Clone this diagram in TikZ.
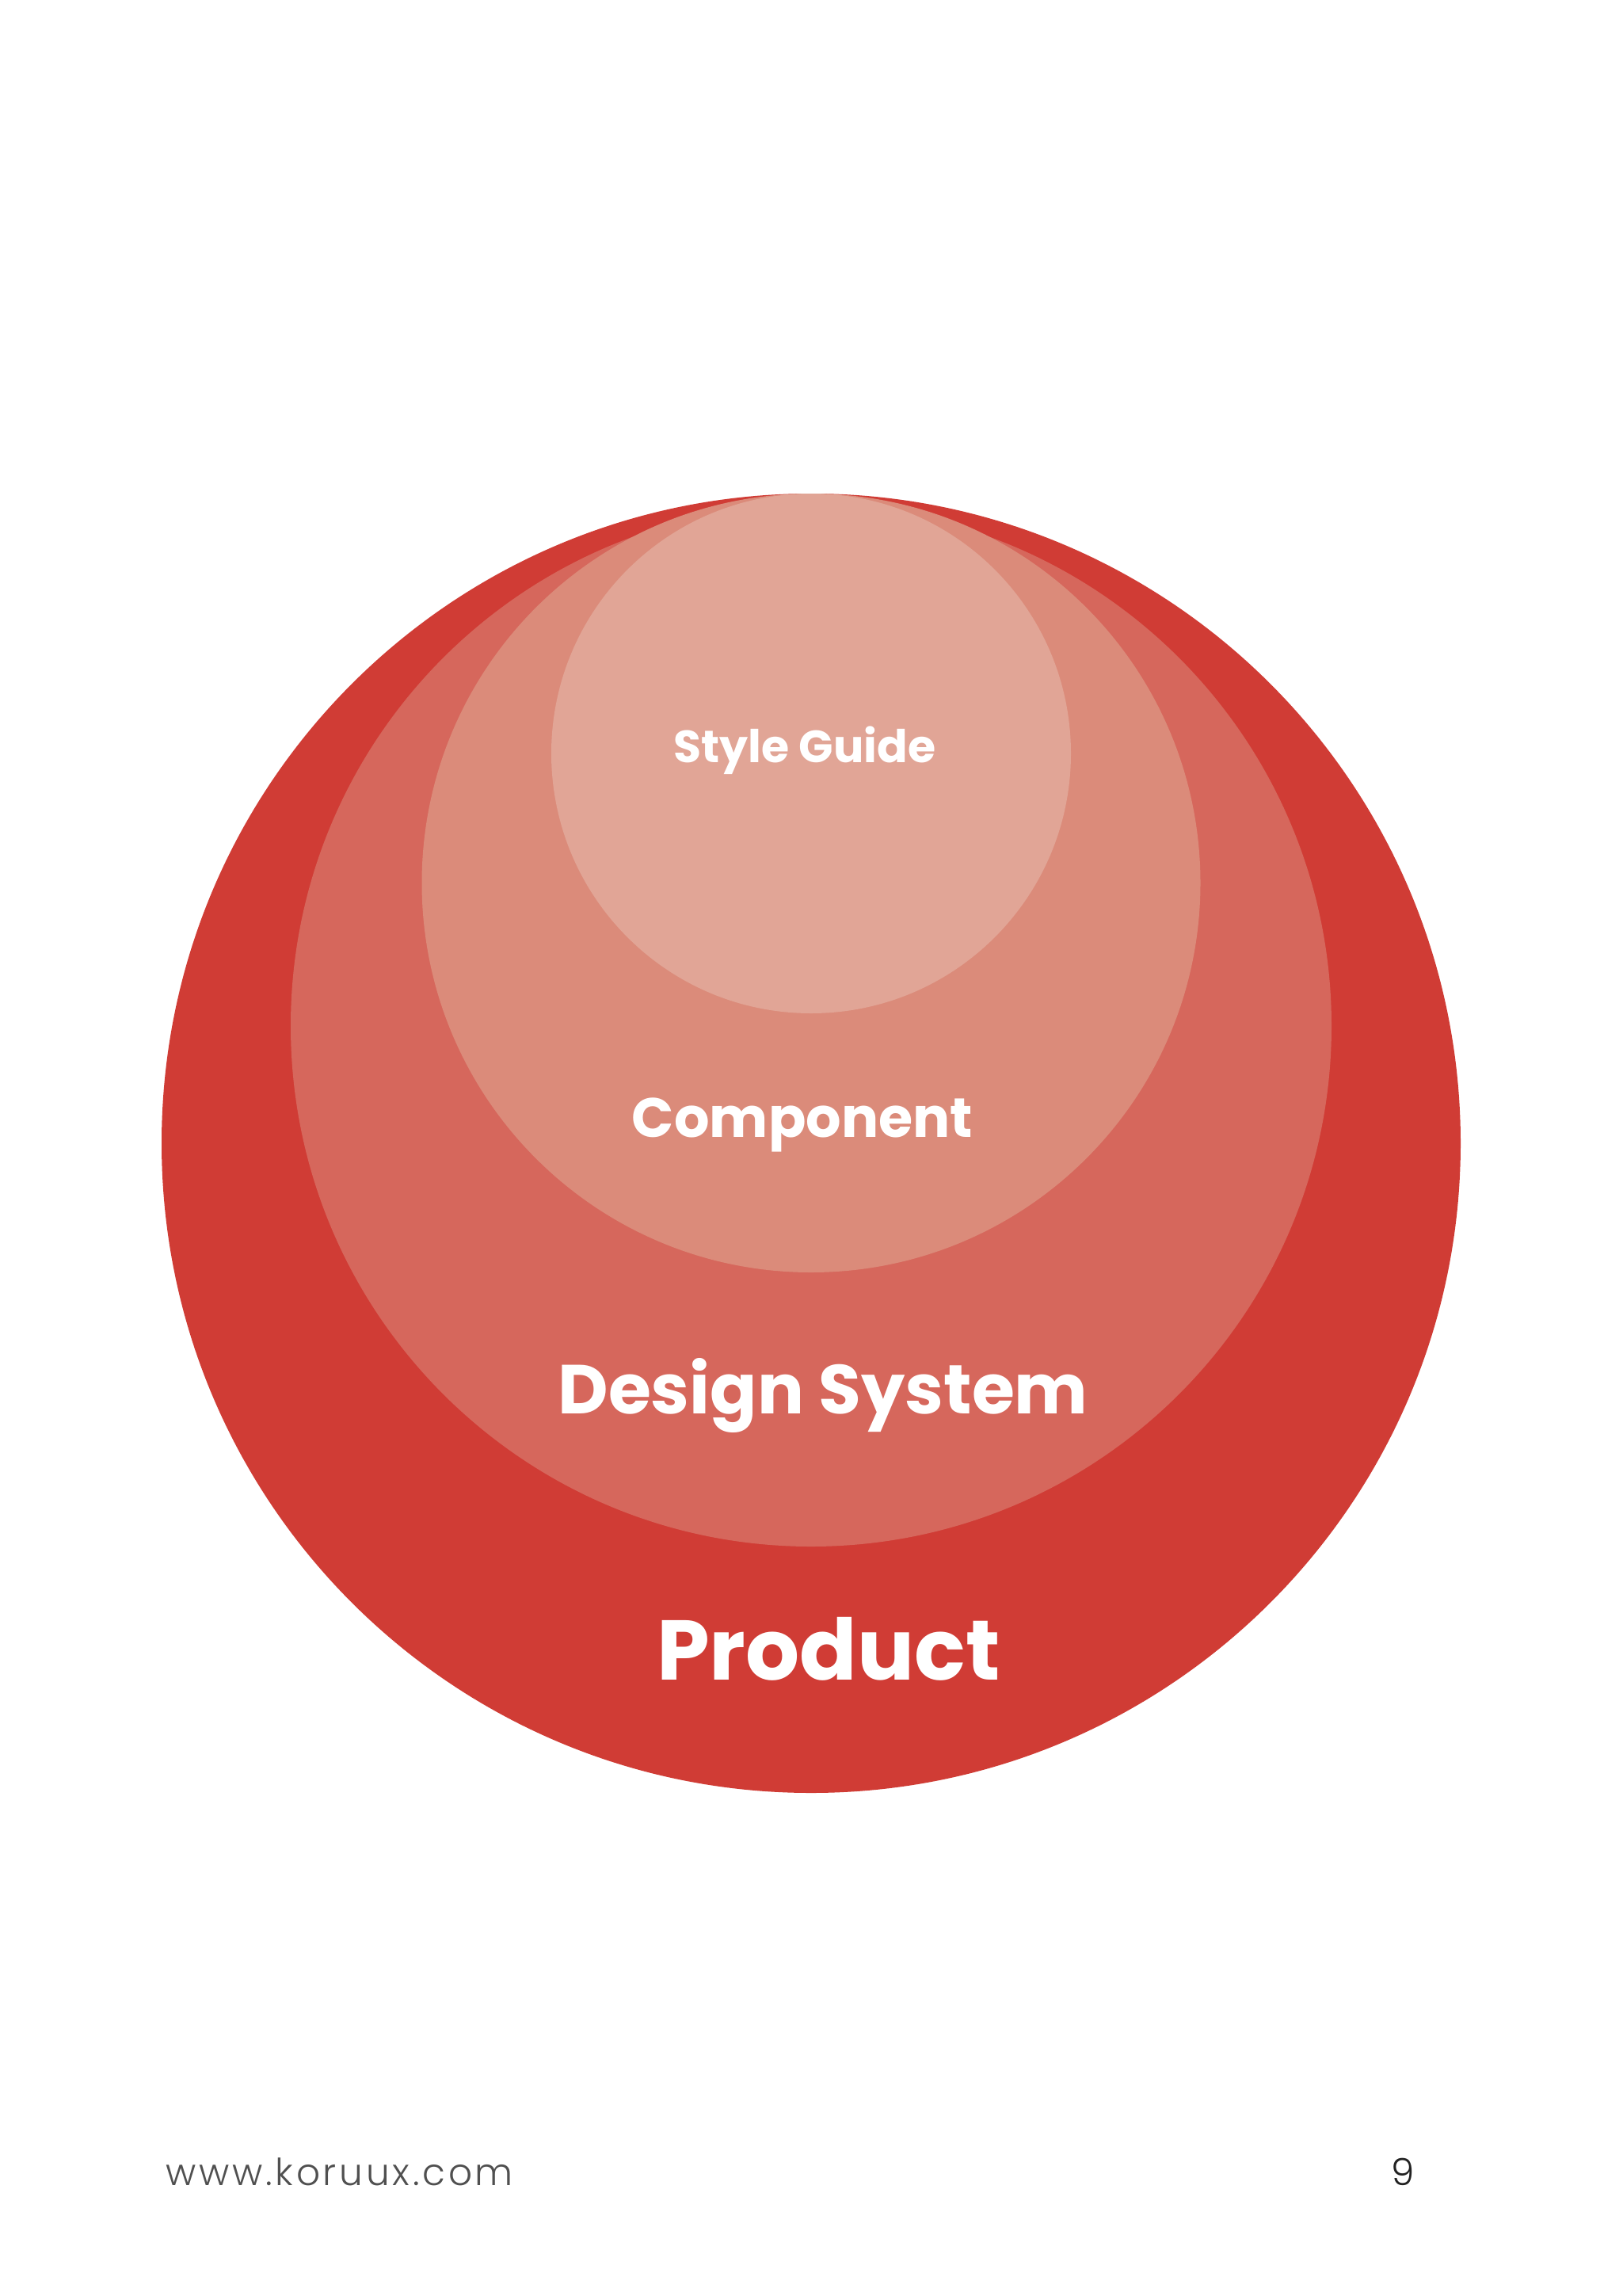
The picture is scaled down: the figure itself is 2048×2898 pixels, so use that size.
\documentclass[tikz,border=0pt]{standalone}
\usepackage{fontspec}
\setmainfont{Poppins}
\newfontfamily\plight{Poppins Light}
\newfontfamily\plightwide{Poppins Light}[LetterSpace=8]
\definecolor{cOuter}{HTML}{D03C35}
\definecolor{cSecond}{HTML}{D6675C}
\definecolor{cThird}{HTML}{DB8B7A}
\definecolor{cFourth}{HTML}{E1A596}
\definecolor{cUrl}{HTML}{505050}
\definecolor{cNum}{HTML}{222222}
\tikzset{
  label/.style={text=white, inner sep=0pt, anchor=base, font=\bfseries},
  foot/.style={inner sep=0pt, anchor=base}
}
\begin{document}
\begin{tikzpicture}[x=1pt, y=-1pt]
\useasboundingbox (0,0) rectangle (2048,2898);
\fill[white] (0,0) rectangle (2048,2898);
\fill[cOuter]  (1024,1443) circle[radius=820pt];
\fill[cSecond] (1024,1295) circle[radius=657pt];
\fill[cThird]  (1024,1114.5) circle[radius=491.5pt];
\fill[cFourth] (1024,951) circle[radius=328pt];
\node[label, font=\bfseries\fontsize{57}{57}\selectfont] (sg) at (1016,962) {Style Guide};
\node[label, font=\bfseries\fontsize{70}{70}\selectfont] (comp) at (1013,1435) {Component};
\node[label, font=\bfseries\fontsize{87.5}{87.5}\selectfont] (ds) at (1039,1784) {Design System};
\node[label, font=\bfseries\fontsize{107}{107}\selectfont] (prod) at (1046,2120) {Product};
\node[foot, anchor=base west, text=cUrl, font=\plightwide\fontsize{47}{47}\selectfont] (url) at (209,2758) {www.koruux.com};
\node[foot, text=cNum, font=\plight\fontsize{47}{47}\selectfont] (page) at (1771,2758) {9};
\end{tikzpicture}
\end{document}
